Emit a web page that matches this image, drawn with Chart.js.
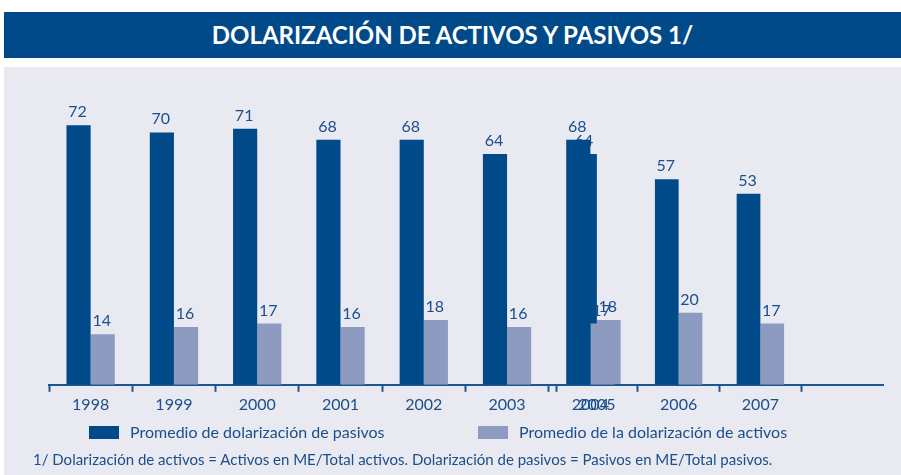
<!DOCTYPE html>
<html><head><meta charset="utf-8">
<script src="https://cdn.jsdelivr.net/npm/chart.js@4"></script>
<style>
html,body{margin:0;padding:0;background:#fff;width:901px;height:475px;overflow:hidden;font-family:Lato,"Open Sans",sans-serif;}
#title{position:absolute;left:4px;top:12px;width:897px;height:46px;background:#004a8a;color:#fff;font-weight:bold;font-size:24px;font-family:Lato,sans-serif;text-align:center;line-height:46px;}
#panel{position:absolute;left:4px;top:67px;width:897px;height:408px;background:#e9e9f1;}
canvas{position:absolute;left:0;top:0;}
.box{position:absolute;width:30px;height:13px;top:426px;}
.leg{position:absolute;top:422px;line-height:20px;font-size:16px;color:#1a4f8a;white-space:nowrap;}
#foot{position:absolute;left:33px;top:449px;line-height:20px;font-size:15px;color:#1a4f8a;white-space:nowrap;}
</style></head>
<body>
<div id="title">DOLARIZACIÓN DE ACTIVOS Y PASIVOS 1/</div>
<div id="panel"></div>
<canvas id="cB" width="901" height="475"></canvas>
<canvas id="cA" width="901" height="475"></canvas>
<div class="box" style="left:89px;background:#004a8a"></div>
<div class="leg" style="left:130px">Promedio de dolarización de pasivos</div>
<div class="box" style="left:478px;background:#8e9bc0"></div>
<div class="leg" style="left:519px">Promedio de la dolarización de activos</div>
<div id="foot">1/ Dolarización de activos = Activos en ME/Total activos. Dolarización de pasivos = Pasivos en ME/Total pasivos.</div>
<script>
const yearsA = ['1998','1999','2000','2001','2002','2003','2004'];
const pasivosA = [72,70,71,68,68,64,68];
const activosA = [14,16,17,16,18,16,17];
const yearsB = ['2005','2006','2007',''];
const pasivosB = [64,57,53,null];
const activosB = [18,20,17,null];
const seriesNames = ['Promedio de dolarización de pasivos','Promedio de la dolarización de activos'];

const DARK = '#004a8a', LIGHT = '#8e9bc0', TEXT = '#1a4f8a', AXIS = '#1f5590';

const valueLabels = {
  id: 'valueLabels',
  afterDatasetsDraw(chart) {
    const ctx = chart.ctx;
    ctx.save();
    ctx.font = '16px Lato';
    ctx.fillStyle = TEXT;
    ctx.textAlign = 'center';
    ctx.textBaseline = 'alphabetic';
    chart.data.datasets.forEach((ds, i) => {
      chart.getDatasetMeta(i).data.forEach((bar, j) => {
        const v = ds.data[j];
        if (v == null) return;
        ctx.fillText(String(v), bar.x - 1, bar.y - 8);
      });
    });
    ctx.restore();
  }
};

function makeChart(id, labels, pas, act, padLeft, padRight) {
  return new Chart(document.getElementById(id), {
    type: 'bar',
    data: {
      labels: labels,
      datasets: [
        {label: seriesNames[0], data: pas, backgroundColor: DARK, borderWidth: 0, categoryPercentage: 0.58, barPercentage: 1},
        {label: seriesNames[1], data: act, backgroundColor: LIGHT, borderWidth: 0, categoryPercentage: 0.58, barPercentage: 1}
      ]
    },
    options: {
      responsive: false, animation: false, devicePixelRatio: 1,
      layout: {padding: {left: padLeft, right: padRight, top: 100, bottom: 58}},
      plugins: {legend: {display: false}, tooltip: {enabled: false}},
      scales: {
        x: {
          grid: {drawOnChartArea: false, drawTicks: true, tickLength: 7, tickWidth: 2, offset: true,
                 tickColor: c => c.type === 'tick' ? AXIS : 'rgba(0,0,0,0)'},
          border: {display: true, color: AXIS, width: 2},
          ticks: {color: TEXT, font: {family: 'Lato', size: 16}, padding: 3, maxRotation: 0, autoSkip: false}
        },
        y: {display: false, min: 0, max: 79}
      }
    },
    plugins: [valueLabels]
  });
}
makeChart('cB', yearsB, pasivosB, activosB, 556, 18);
makeChart('cA', yearsA, pasivosA, activosA, 49, 269);
</script>
</body></html>
